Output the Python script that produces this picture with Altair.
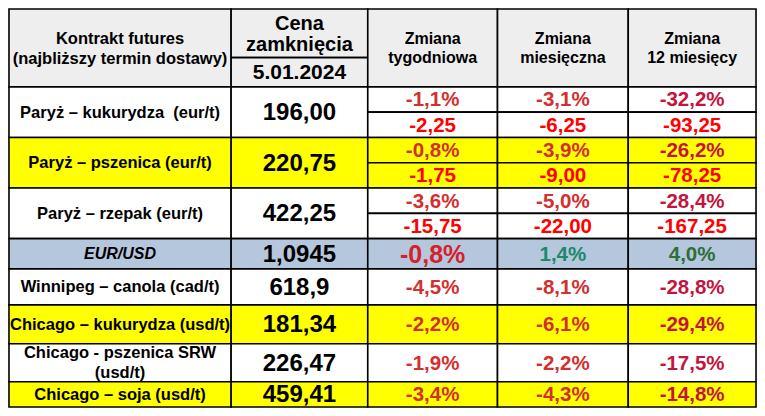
import altair as alt
import pandas as pd

# ---- data ----
contracts = [
    ["Paryż – kukurydza\u00a0 (eur/t)"],
    ["Paryż – pszenica (eur/t)"],
    ["Paryż – rzepak (eur/t)"],
    ["EUR/USD"],
    ["Winnipeg – canola (cad/t)"],
    ["Chicago – kukurydza (usd/t)"],
    ["Chicago - pszenica SRW", "(usd/t)"],
    ["Chicago – soja (usd/t)"],
]
prices = ["196,00", "220,75", "422,25", "1,0945", "618,9", "181,34", "226,47", "459,41"]
weekly_pct = ["-1,1%", "-0,8%", "-3,6%", "-0,8%", "-4,5%", "-2,2%", "-1,9%", "-3,4%"]
monthly_pct = ["-3,1%", "-3,9%", "-5,0%", "1,4%", "-8,1%", "-6,1%", "-2,2%", "-4,3%"]
yearly_pct = ["-32,2%", "-26,2%", "-28,4%", "4,0%", "-28,8%", "-29,4%", "-17,5%", "-14,8%"]
weekly_abs = ["-2,25", "-1,75", "-15,75"]
monthly_abs = ["-6,25", "-9,00", "-22,00"]
yearly_abs = ["-93,25", "-78,25", "-167,25"]
header_first = ["Kontrakt futures", "(najbliższy termin dostawy)"]
header_price = ["Cena", "zamknięcia"]
header_date = "5.01.2024"
header_changes = [["Zmiana", "tygodniowa"], ["Zmiana", "miesięczna"], ["Zmiana", "12 miesięcy"]]

# ---- layout / style ----
col_edges = [2, 228, 367, 499, 632, 762]
header_top, header_split = 4, 54
row_edges = [84, 136, 188, 240, 271, 308, 348, 387, 413]
row_fill = ["#ffffff", "#ffff00", "#ffffff", "#b4c7dc", "#ffffff", "#ffff00", "#ffffff", "#ffff00"]
header_fill = "#eeeeee"
c_pct = "#d32f2f"
c_year = "#c4143e"
c_abs = "#ff0000"
c_pos_m = "#1b8a6b"
c_pos_y = "#2e6e38"
c_eur_w = "#d6202a"

cells = []
texts = []


def cell(x0, x1, y0, y1, fill):
    cells.append(dict(x=x0, x2=x1, y=y0, y2=y1, fill=fill))


def txt(x, y, t, color="#000000", size=16, italic=False):
    texts.append(dict(x=x, y=y, text=t, color=color, size=size, italic=italic))


def lines(x, yc, parts, lh, **kw):
    n = len(parts)
    for k, p in enumerate(parts):
        txt(x, yc + (k - (n - 1) / 2) * lh, p, **kw)


def cx(c):
    return (col_edges[c] + col_edges[c + 1]) / 2


# header
hb = row_edges[0]
cell(col_edges[0], col_edges[1], header_top, hb, header_fill)
cell(col_edges[1], col_edges[2], header_top, header_split, header_fill)
cell(col_edges[1], col_edges[2], header_split, hb, header_fill)
for c in range(2, 5):
    cell(col_edges[c], col_edges[c + 1], header_top, hb, header_fill)
lines(cx(0), 45, header_first, 20, size=16.5)
lines(cx(1), 30, header_price, 22, size=20)
txt(cx(1), 70, header_date, size=21)
for i, h in enumerate(header_changes):
    lines(cx(2 + i), 44.5, h, 19, size=16)

for r in range(len(contracts)):
    y0, y1 = row_edges[r], row_edges[r + 1]
    f = row_fill[r]
    cell(col_edges[0], col_edges[1], y0, y1, f)
    cell(col_edges[1], col_edges[2], y0, y1, f)
    italic = contracts[r][0] == "EUR/USD"
    lines(cx(0), (y0 + y1) / 2 + 0.5, contracts[r], 20, size=16 if italic else 16.5, italic=italic)
    txt(cx(1), (y0 + y1) / 2 + 1, prices[r], size=24)
    pcts = [weekly_pct[r], monthly_pct[r], yearly_pct[r]]
    if r < len(weekly_abs):
        ym = (y0 + y1) / 2
        abss = [weekly_abs[r], monthly_abs[r], yearly_abs[r]]
        for i in range(3):
            cell(col_edges[2 + i], col_edges[3 + i], y0, ym, f)
            cell(col_edges[2 + i], col_edges[3 + i], ym, y1, f)
            txt(cx(2 + i), (y0 + ym) / 2 + 1, pcts[i], color=c_year if i == 2 else c_pct, size=20.5)
            txt(cx(2 + i), (ym + y1) / 2 + 1, abss[i], color=c_abs, size=20.5)
    else:
        for i in range(3):
            cell(col_edges[2 + i], col_edges[3 + i], y0, y1, f)
            v = pcts[i]
            size = 20.5
            if v.startswith("-"):
                color = c_year if i == 2 else c_pct
                if italic and i == 0:
                    color, size = c_eur_w, 25
            else:
                color = c_pos_m if i == 1 else c_pos_y
            txt(cx(2 + i), (y0 + y1) / 2 + 1, v, color=color, size=size)

cells_df = pd.DataFrame(cells)
text_df = pd.DataFrame(texts)

xs = alt.Scale(domain=[1, 763])
ys = alt.Scale(domain=[3, 414], reverse=True)

rects = alt.Chart(cells_df).mark_rect(stroke="#000000", strokeWidth=1.6).encode(
    x=alt.X("x:Q", scale=xs, axis=None),
    x2="x2:Q",
    y=alt.Y("y:Q", scale=ys, axis=None),
    y2="y2:Q",
    fill=alt.Fill("fill:N", scale=None),
)

base_text = alt.Chart(text_df).encode(
    x=alt.X("x:Q", scale=xs, axis=None),
    y=alt.Y("y:Q", scale=ys, axis=None),
    text="text:N",
    color=alt.Color("color:N", scale=None),
    size=alt.Size("size:Q", scale=None),
)

normal = base_text.mark_text(
    font="Liberation Sans", fontWeight="bold", align="center", baseline="middle"
).transform_filter("!datum.italic")
ital = base_text.mark_text(
    font="Liberation Sans", fontWeight="bold", fontStyle="italic", align="center", baseline="middle"
).transform_filter("datum.italic")

chart = alt.layer(rects, normal, ital).properties(
    width=749, height=400, padding=0,
    autosize=alt.AutoSizeParams(type="fit", contains="padding"),
    background="#ffffff",
).configure_view(stroke=None)

chart.save("out.html", embed_options={"renderer": "svg", "actions": False})
